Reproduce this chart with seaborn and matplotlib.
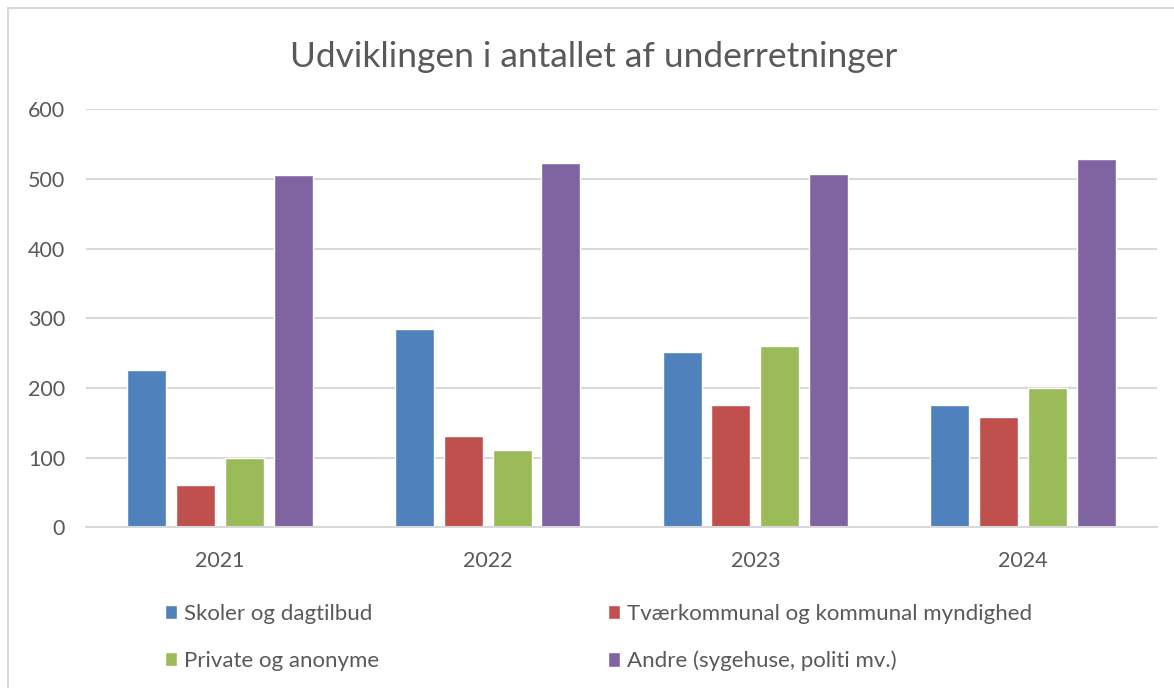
import numpy as np
import pandas as pd
import matplotlib
matplotlib.use('Agg')
import matplotlib.pyplot as plt
import seaborn as sns
from matplotlib.patches import Rectangle

years = ['2021', '2022', '2023', '2024']
series = ['Skoler og dagtilbud', 'Tværkommunal og kommunal myndighed',
          'Private og anonyme', 'Andre (sygehuse, politi mv.)']
skoler = [226, 285, 252, 176]
tvaer = [61, 131, 176, 159]
private = [100, 111, 260, 200]
andre = [506, 523, 507, 528]
colors = ['#4F81BD', '#C0504D', '#9BBB59', '#8064A2']
y_ticks = [0, 100, 200, 300, 400, 500, 600]

TXT = '#595959'
GRID = '#D9D9D9'

sns.set_theme(style='white')
plt.rcParams['font.family'] = ['Lato', 'DejaVu Sans']

df = pd.DataFrame({'År': years, series[0]: skoler, series[1]: tvaer,
                   series[2]: private, series[3]: andre})
long = df.melt(id_vars='År', var_name='Kategori', value_name='Antal')

fig = plt.figure(figsize=(11.74, 6.88), dpi=100)
ax = fig.add_axes([86 / 1174, 1 - 527.3 / 688, (1157 - 86) / 1174, (527.3 - 109.3) / 688])

sns.barplot(data=long, x='År', y='Antal', hue='Kategori', hue_order=series,
            palette=colors, width=0.73, gap=0.2, saturation=1, ax=ax)

ax.set_ylim(0, 600)
ax.set_yticks(y_ticks)
ax.yaxis.grid(True, color=GRID, linewidth=1.5)
ax.set_axisbelow(True)
for s in ['top', 'right', 'left']:
    ax.spines[s].set_visible(False)
ax.spines['bottom'].set_color(GRID)
ax.spines['bottom'].set_linewidth(1.5)
ax.tick_params(axis='both', length=0, labelsize=15.5, labelcolor=TXT)
ax.tick_params(axis='y', pad=15)
ax.tick_params(axis='x', pad=17)
ax.set_xlabel('')
ax.set_ylabel('')

handles, labels = ax.get_legend_handles_labels()
ax.get_legend().remove()

fig.text(594 / 1174, 1 - 57 / 688, 'Udviklingen i antallet af underretninger',
         ha='center', va='center', fontsize=25.5, color=TXT)

# two legend columns placed separately
for cols, x0 in [((0, 2), 154 / 1174), ((1, 3), 597 / 1174)]:
    fig.legend([handles[i] for i in cols], [labels[i] for i in cols],
               loc='upper left', bbox_to_anchor=(x0, 1 - 593 / 688),
               frameon=False, fontsize=16, labelcolor=TXT,
               handlelength=0.55, handleheight=0.6, handletextpad=0.3,
               labelspacing=1.2, borderpad=0)

fig.patches.append(Rectangle((8 / 1174, -0.01), 1.1, 1 - 8 / 688 + 0.01,
                             transform=fig.transFigure, fill=False,
                             edgecolor=GRID, linewidth=1.5))

fig.savefig('out.png', dpi=100)
